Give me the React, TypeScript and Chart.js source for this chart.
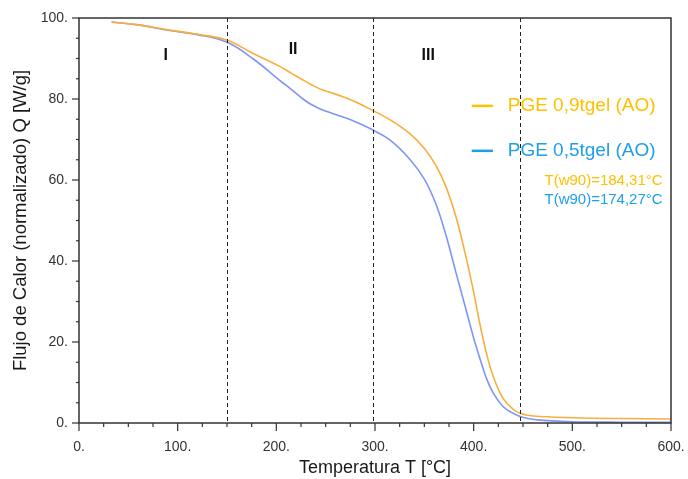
import React, { useEffect, useRef } from "react";
import { Chart, registerables } from "chart.js";

Chart.register(...registerables);

// Temperature grid (°C)
const temps = [33, 60, 92, 120, 150, 176, 204, 215, 227, 235, 244, 255, 267, 280, 295, 315, 335, 350, 362, 372, 382, 392, 400, 406, 413, 420, 430, 440, 447, 455, 467, 500, 550, 600];
// PGE 0,9tgel (AO)
const seriesOrange = [99.0, 98.3, 97.0, 96.0, 94.5, 91.3, 88.0, 86.4, 84.7, 83.6, 82.5, 81.6, 80.6, 79.3, 77.5, 74.9, 71.5, 67.8, 63.5, 58.3, 51.0, 41.2, 32.3, 24.8, 17.2, 11.4, 6.0, 3.4, 2.4, 1.9, 1.6, 1.3, 1.1, 1.0];
// PGE 0,5tgel (AO)
const seriesBlue = [99.0, 98.3, 96.9, 95.9, 94.0, 90.0, 84.5, 82.4, 80.0, 78.7, 77.6, 76.6, 75.6, 74.4, 72.7, 69.9, 65.2, 60.2, 53.9, 46.3, 37.2, 28.2, 21.0, 16.2, 11.0, 7.3, 4.0, 2.4, 1.6, 1.1, 0.7, 0.3, 0.2, 0.2];

const seriesNames = ["PGE 0,9tgel (AO)", "PGE 0,5tgel (AO)"];
const annotations = ["T(w90)=184,31°C", "T(w90)=174,27°C"];
const dividers = [150, 298, 447];
const regionLabels = ["I", "II", "III"];
const regionX = [88, 217, 354];
const regionY = [90.6, 92.1, 90.6];

const FONT = "'Liberation Sans', Arial, sans-serif";
const LINE_ORANGE = "#F8AE3C";
const LINE_BLUE = "#7F95F7";
const TEXT_ORANGE = "#FFC000";
const TEXT_BLUE = "#1EA0E8";

const overlay = {
  id: "overlay",
  afterDatasetsDraw(chart: any) {
    const { ctx, chartArea, scales } = chart;
    const x = scales.x;
    const y = scales.y;
    const { left, right, top, bottom } = chartArea;
    ctx.save();

    // dashed dividers
    ctx.strokeStyle = "#222";
    ctx.lineWidth = 1;
    ctx.setLineDash([4, 3]);
    dividers.forEach((d) => {
      const px = Math.round(x.getPixelForValue(d)) + 0.5;
      ctx.beginPath();
      ctx.moveTo(px, top);
      ctx.lineTo(px, bottom);
      ctx.stroke();
    });
    ctx.setLineDash([]);

    // region labels
    ctx.fillStyle = "#111";
    ctx.font = `bold 16px ${FONT}`;
    ctx.textAlign = "center";
    ctx.textBaseline = "middle";
    regionLabels.forEach((t, i) => {
      ctx.fillText(t, x.getPixelForValue(regionX[i]), y.getPixelForValue(regionY[i]));
    });

    // legend
    const legendY = [78.3, 67.2];
    const lineCols = [TEXT_ORANGE, TEXT_BLUE];
    seriesNames.forEach((name, i) => {
      const py = y.getPixelForValue(legendY[i]);
      ctx.strokeStyle = lineCols[i];
      ctx.lineWidth = 2.5;
      ctx.beginPath();
      ctx.moveTo(x.getPixelForValue(398), py);
      ctx.lineTo(x.getPixelForValue(419.5), py);
      ctx.stroke();
      ctx.fillStyle = lineCols[i];
      ctx.font = `19px ${FONT}`;
      ctx.textAlign = "left";
      ctx.textBaseline = "middle";
      ctx.fillText(name, x.getPixelForValue(434.5), py);
    });

    // annotations
    ctx.font = `15px ${FONT}`;
    ctx.textAlign = "right";
    ctx.textBaseline = "middle";
    const annY = [59.8, 55.2];
    annotations.forEach((t, i) => {
      ctx.fillStyle = lineCols[i];
      ctx.fillText(t, x.getPixelForValue(591.5), y.getPixelForValue(annY[i]));
    });

    // frame
    ctx.strokeStyle = "#333";
    ctx.lineWidth = 1.5;
    ctx.strokeRect(left, top, right - left, bottom - top);

    // ticks
    ctx.lineWidth = 1.2;
    ctx.strokeStyle = "#333";
    for (let v = 0; v <= 600; v += 25) {
      const px = x.getPixelForValue(v);
      const len = v % 100 === 0 ? 8 : 4;
      ctx.beginPath();
      ctx.moveTo(px, bottom);
      ctx.lineTo(px, bottom + len);
      ctx.stroke();
    }
    for (let v = 0; v <= 100; v += 5) {
      const py = y.getPixelForValue(v);
      const len = v % 20 === 0 ? 7 : 3;
      ctx.beginPath();
      ctx.moveTo(left, py);
      ctx.lineTo(left - len, py);
      ctx.stroke();
    }
    ctx.restore();
  },
};

export default function App() {
  const ref = useRef<HTMLCanvasElement>(null);
  useEffect(() => {
    if (!ref.current) return;
    const chart = new Chart(ref.current, {
      type: "line",
      data: {
        datasets: [
          {
            label: seriesNames[0],
            data: temps.map((t, i) => ({ x: t, y: seriesOrange[i] })),
            borderColor: LINE_ORANGE,
            borderWidth: 1.6,
            pointRadius: 0,
            tension: 0.4,
            fill: false,
          },
          {
            label: seriesNames[1],
            data: temps.map((t, i) => ({ x: t, y: seriesBlue[i] })),
            borderColor: LINE_BLUE,
            borderWidth: 1.6,
            pointRadius: 0,
            tension: 0.4,
            fill: false,
          },
        ],
      },
      plugins: [overlay],
      options: {
        responsive: false,
        animation: false,
        layout: { padding: { top: 18, right: 0, left: 0, bottom: 0 } },
        plugins: { legend: { display: false }, tooltip: { enabled: false } },
        scales: {
          x: {
            type: "linear",
            min: 0,
            max: 600,
            afterFit: (s: any) => {
              s.height = 56;
              s.paddingRight = 17;
              s.paddingLeft = 0;
            },
            grid: { display: false, drawTicks: false },
            border: { display: false },
            ticks: {
              stepSize: 100,
              callback: (v: any) => `${v}.`,
              font: { family: FONT, size: 14 },
              color: "#333",
              padding: 16,
              maxRotation: 0,
            },
            title: {
              display: true,
              text: "Temperatura T [°C]",
              font: { family: FONT, size: 18 },
              color: "#1a1a1a",
              padding: { top: 0, bottom: 0 },
            },
          },
          y: {
            type: "linear",
            min: 0,
            max: 100,
            afterFit: (s: any) => {
              s.width = 79;
              s.paddingTop = 0;
              s.paddingBottom = 0;
            },
            grid: { display: false, drawTicks: false },
            border: { display: false },
            ticks: {
              stepSize: 20,
              callback: (v: any) => `${v}.`,
              font: { family: FONT, size: 14 },
              color: "#333",
              padding: 11,
            },
            title: {
              display: true,
              text: "Flujo de Calor (normalizado) Q [W/g]",
              font: { family: FONT, size: 18.5 },
              color: "#1a1a1a",
              padding: { top: 10, bottom: 0 },
            },
          },
        },
      },
    });
    return () => chart.destroy();
  }, []);
  return (
    <div style={{ position: "fixed", left: 0, top: 0, width: 688, height: 479, background: "#fff" }}>
      <canvas ref={ref} width={688} height={479} style={{ display: "block" }} />
    </div>
  );
}
